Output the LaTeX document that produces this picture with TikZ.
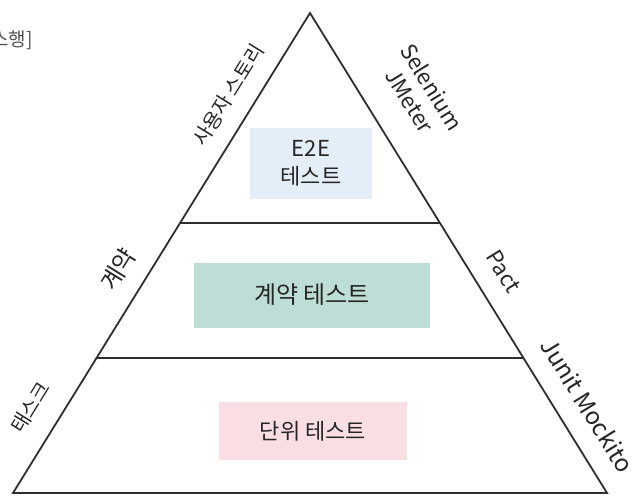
\documentclass[tikz,border=0pt]{standalone}
\usepackage{fontspec}
\setmainfont{Noto Sans CJK KR}
\usetikzlibrary{positioning}

\definecolor{inkline}{HTML}{2E2E2E}
\definecolor{bandblue}{HTML}{E4EEF8}
\definecolor{bandteal}{HTML}{BEDDD7}
\definecolor{bandpink}{HTML}{F9DEE4}

\tikzset{
  edge/.style={draw=inkline, line width=1.8pt, line join=miter},
  divider/.style={draw=inkline, line width=1.6pt},
  band/.style={rectangle, inner sep=0pt, draw=none},
  bandtext/.style={font=\fontsize{22}{28}\selectfont, text=black!85, align=center},
  sidelabel/.style={sloped, above, inner sep=2pt, font=\fontsize{20}{24}\selectfont, text=black!85, align=center},
  latinlabel/.style={sidelabel, font=\fontsize{22}{26}\selectfont}
}

\begin{document}
\begin{tikzpicture}[x=1pt, y=-1pt]
  \useasboundingbox (0,0) rectangle (636,495);

  % --- Esquinas ---
  \coordinate (apex) at (310,13);
  \coordinate (bl) at (13,493);
  \coordinate (br) at (607,493);
  \coordinate (d1l) at (180,223);
  \coordinate (d1r) at (440,223);
  \coordinate (d2l) at (97,358);
  \coordinate (d2r) at (523,358);

  % --- Bandas de color ---
  \node (e2ebox) [band, fill=bandblue, minimum width=122pt, minimum height=71pt] at (311,163) {};
  \node (contractbox) [band, fill=bandteal, minimum width=236pt, minimum height=65pt] at (312,295) {};
  \node (unitbox) [band, fill=bandpink, minimum width=188pt, minimum height=58pt] at (313,431) {};

  \node (e2e) [bandtext] at (e2ebox) {E2E\\테스트};
  \node (contract) [bandtext, font=\fontsize{24}{28}\selectfont] at (contractbox) {계약 테스트};
  \node (unit) [bandtext] at (unitbox) {단위 테스트};

  % --- Triangulo y divisiones ---
  \draw [edge] (bl) -- (apex) -- (br) -- cycle;
  \draw [divider] (d1l) -- (d1r);
  \draw [divider] (d2l) -- (d2r);

  % --- Etiquetas laterales ---
  \path (bl) -- node[sidelabel, pos=0.80, above=15pt] (story) {사용자 스토리}
                 node[sidelabel, pos=0.435, above=15pt, font=\fontsize{24}{28}\selectfont] (contractside) {계약}
                 node[sidelabel, pos=0.145, above=19pt] (task) {태스크} (apex);
  \path (apex) -- node[latinlabel, pos=0.225, above=28pt] (selenium) {Selenium\\JMeter}
                  node[latinlabel, pos=0.57, above=18pt] (pact) {Pact}
                  node[latinlabel, pos=0.85, above=18pt, font=\fontsize{24}{28}\selectfont] (junit) {Junit Mockito} (br);

  % --- Texto recortado ---
  \node (caption) [anchor=east, inner sep=0pt, font=\fontsize{19}{22}\selectfont, text=black!70] at (33,40) {스행]};
\end{tikzpicture}
\end{document}
